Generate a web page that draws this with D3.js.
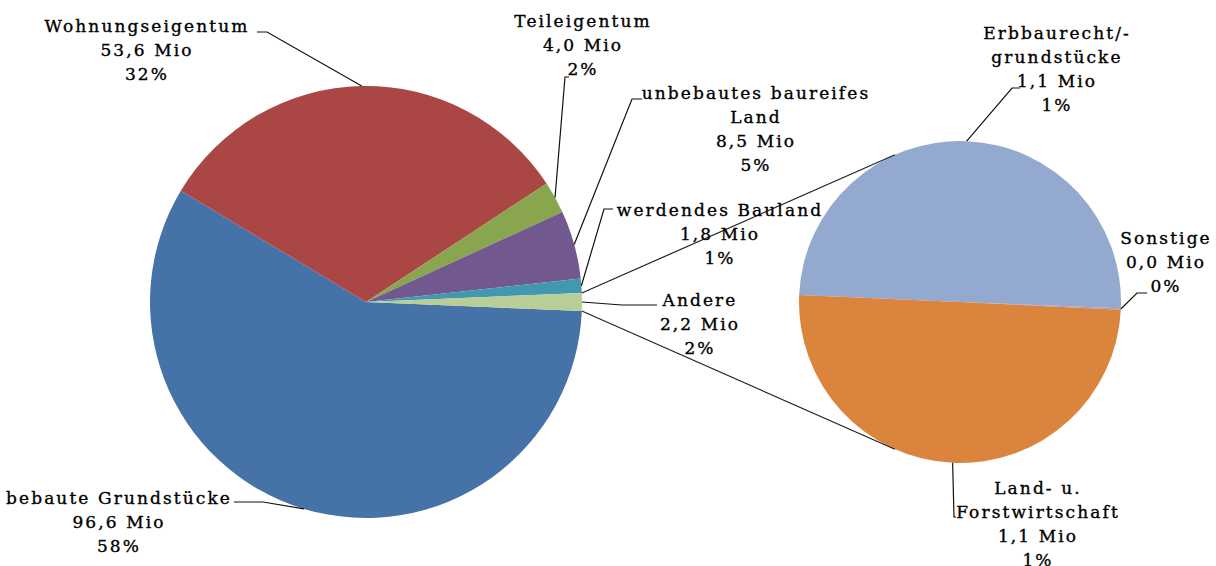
<!DOCTYPE html>
<html>
<head>
<meta charset="utf-8">
<script src="https://cdn.jsdelivr.net/npm/d3@7"></script>
<style>
  body { margin: 0; background: #fff; }
  svg text { font-family: "DejaVu Serif", serif; font-size: 17px; fill: #000; stroke: #000; stroke-width: 0.35px; letter-spacing: 2.1px; }
</style>
</head>
<body>
<svg id="chart" width="1216" height="566"></svg>
<script>
// Hauptkreis: Kategorien, Werte (Mio), Prozent-Beschriftung
var mainNames = ["bebaute Grundstücke", "Wohnungseigentum", "Teileigentum", "unbebautes baureifes|Land", "werdendes Bauland", "Andere"];
var mainValues = [96.6, 53.6, 4.0, 8.5, 1.8, 2.2];
var mainPct = ["58%", "32%", "2%", "5%", "1%", "2%"];
var mainColors = ["#4572A7", "#AA4643", "#89A54E", "#71588F", "#4198AF", "#B9CD96"];

// Zweiter Kreis (Aufteilung von "Andere")
var subNames = ["Erbbaurecht/-|grundstücke", "Sonstige", "Land- u.|Forstwirtschaft"];
var subValues = [1.1, 0.003, 1.1];
var subPct = ["1%", "0%", "1%"];
var subColors = ["#93A9CF", "#A99BBD", "#DB843D"];

var svg = d3.select("#chart");

var main = {cx: 366, cy: 302, r: 216};
var sub = {cx: 960, cy: 302, r: 161};

// Beschriftungen: Textmitte/erste Grundlinie und Knickpunkte der Führungslinie
var mainLayout = [
  {tx: 119, ty: 504, elbow: [263, 502], end: [234, 502]},
  {tx: 147, ty: 32, elbow: [267, 32], end: [257, 32]},
  {tx: 583, ty: 27, elbow: [565, 77], end: [569, 77]},
  {tx: 756, ty: 99, elbow: [632, 99], end: [642, 99]},
  {tx: 720, ty: 216, elbow: [604, 209], end: [613, 209]},
  {tx: 700, ty: 306, elbow: [622, 305], end: [657, 305]}
];
var subLayout = [
  {tx: 1057, ty: 39, elbow: [1012, 88], end: [1020, 88]},
  {tx: 1166, ty: 244, elbow: [1137, 293], end: [1147, 293]},
  {tx: 1038, ty: 494, elbow: [954, 517], end: [956, 517]}
];

function fmt(v) {
  return d3.format(".1f")(v).replace(".", ",") + " Mio";
}

// "Andere" mittig auf 3 Uhr
var mainTotal = d3.sum(mainValues);
var andereAngle = mainValues[mainValues.length - 1] / mainTotal * 2 * Math.PI;
var mainStart = Math.PI / 2 + andereAngle / 2;

var pieMain = d3.pie().sort(null).startAngle(mainStart).endAngle(mainStart + 2 * Math.PI);
var subStart = -87.5 * Math.PI / 180;
var pieSub = d3.pie().sort(null).startAngle(subStart).endAngle(subStart + 2 * Math.PI);

var arcMain = d3.arc().innerRadius(0).outerRadius(main.r);
var arcSub = d3.arc().innerRadius(0).outerRadius(sub.r);

var mainArcs = pieMain(mainValues);
var subArcs = pieSub(subValues);

var gMain = svg.append("g").attr("transform", "translate(" + main.cx + "," + main.cy + ")");
gMain.selectAll("path")
  .data(mainArcs)
  .enter()
  .append("path")
  .attr("d", arcMain)
  .attr("fill", function(d, i) { return mainColors[i]; });

var gSub = svg.append("g").attr("transform", "translate(" + sub.cx + "," + sub.cy + ")");
gSub.selectAll("path")
  .data(subArcs)
  .enter()
  .append("path")
  .attr("d", arcSub)
  .attr("fill", function(d, i) { return subColors[i]; });

// Punkt auf dem Kreisrand (d3-Winkel: 0 = 12 Uhr, im Uhrzeigersinn)
function edgePoint(c, a) {
  return [c.cx + c.r * Math.sin(a), c.cy - c.r * Math.cos(a)];
}

// Verbindungslinien vom "Andere"-Stück zu den Tangentenpunkten des zweiten Kreises
var andere = mainArcs[mainArcs.length - 1];
var pTop = edgePoint(main, andere.startAngle);
var pBot = edgePoint(main, andere.endAngle);

function tangent(p, upper) {
  var dx = p[0] - sub.cx, dy = p[1] - sub.cy;
  var d = Math.sqrt(dx * dx + dy * dy);
  var base = Math.atan2(dy, dx);
  var t = Math.acos(sub.r / d);
  var a = upper ? base + t : base - t;
  return [sub.cx + sub.r * Math.cos(a), sub.cy + sub.r * Math.sin(a)];
}

var connectors = [[pTop, tangent(pTop, true)], [pBot, tangent(pBot, false)]];
svg.append("g")
  .selectAll("line")
  .data(connectors)
  .enter()
  .append("line")
  .attr("x1", function(d) { return d[0][0]; })
  .attr("y1", function(d) { return d[0][1]; })
  .attr("x2", function(d) { return d[1][0]; })
  .attr("y2", function(d) { return d[1][1]; })
  .attr("stroke", "#222")
  .attr("stroke-width", 1.2);

// Beschriftungen mit Führungslinien
function drawLabels(arcs, circle, names, values, pct, layout) {
  var line = d3.line();
  var g = svg.append("g");
  arcs.forEach(function(a, i) {
    var mid = (a.startAngle + a.endAngle) / 2;
    var p0 = edgePoint(circle, mid);
    var lay = layout[i];
    g.append("path")
      .attr("d", line([p0, lay.elbow, lay.end]))
      .attr("fill", "none")
      .attr("stroke", "#111")
      .attr("stroke-width", 1.2);

    var lines = names[i].split("|").concat([fmt(values[i]), pct[i]]);
    var t = g.append("text")
      .attr("text-anchor", "middle")
      .attr("x", lay.tx)
      .attr("y", lay.ty);
    t.selectAll("tspan")
      .data(lines)
      .enter()
      .append("tspan")
      .attr("x", lay.tx)
      .attr("dy", function(d, j) { return j === 0 ? 0 : 24; })
      .text(function(d) { return d; });
  });
}

drawLabels(mainArcs, main, mainNames, mainValues, mainPct, mainLayout);
drawLabels(subArcs, sub, subNames, subValues, subPct, subLayout);
</script>
</body>
</html>
